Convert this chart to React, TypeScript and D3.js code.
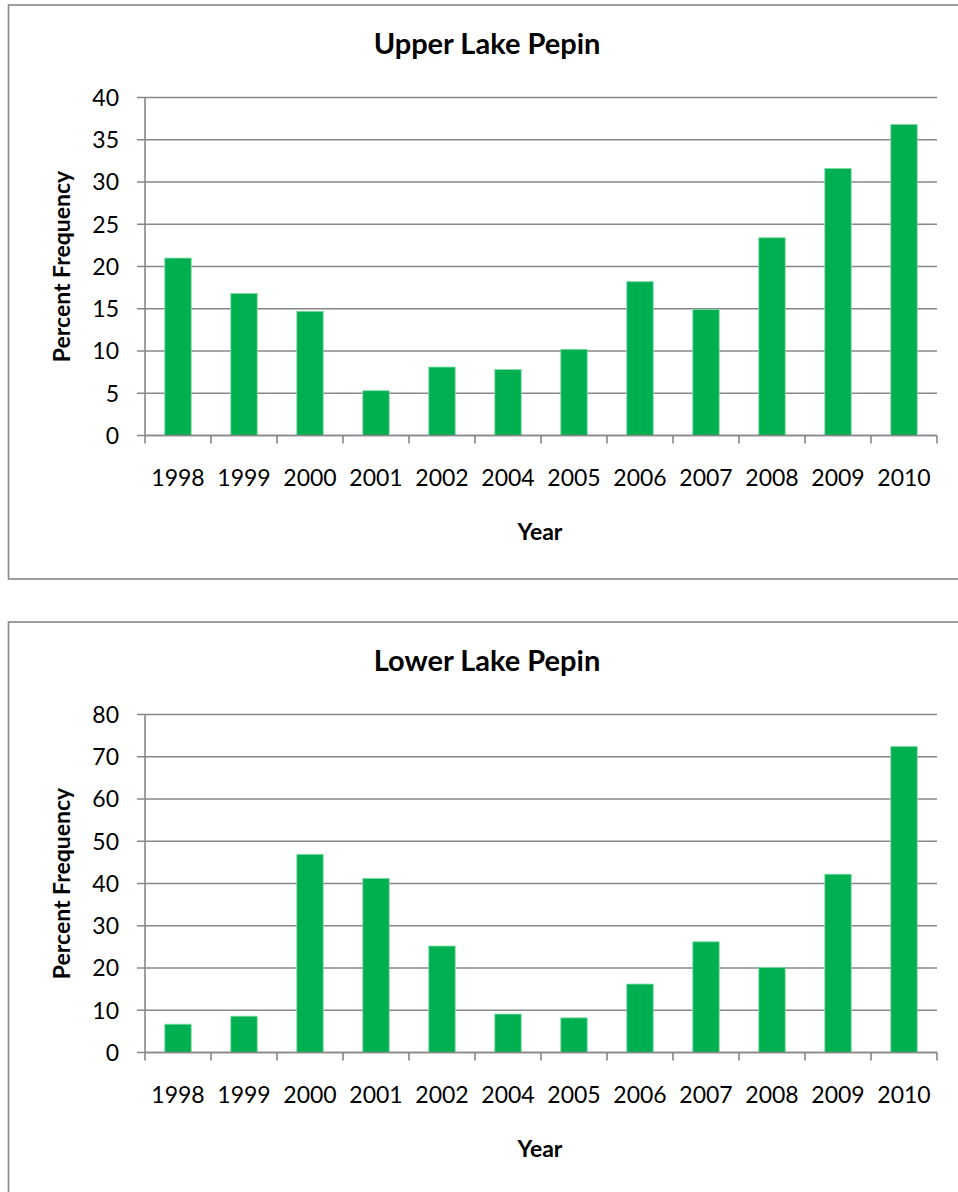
import React from "react";
import * as d3 from "d3";

// Survey years shared by both panels
const years = ["1998", "1999", "2000", "2001", "2002", "2004", "2005", "2006", "2007", "2008", "2009", "2010"];

// Percent frequency per year
const upperValues = [21.0, 16.8, 14.7, 5.3, 8.1, 7.8, 10.2, 18.2, 14.9, 23.4, 31.6, 36.8];
const lowerValues = [6.7, 8.6, 46.9, 41.2, 25.2, 9.1, 8.2, 16.2, 26.2, 20.1, 42.2, 72.4];

const upperTicks = [0, 5, 10, 15, 20, 25, 30, 35, 40];
const lowerTicks = [0, 10, 20, 30, 40, 50, 60, 70, 80];

const FONT = "Lato, 'Open Sans', sans-serif";
const GRID = "#878787";
const GREEN = "#00B050";

type PanelProps = {
  top: number;
  title: string;
  values: number[];
  ticks: number[];
  yMax: number;
};

function Panel({ top, title, values, ticks, yMax }: PanelProps) {
  const plotLeft = 145;
  const plotRight = 937;
  const plotTop = top + 92.5;
  const plotBottom = top + 430.5;

  const x = d3.scaleBand<string>().domain(years).range([plotLeft, plotRight]).paddingInner(0.6).paddingOuter(0.3);
  const y = d3.scaleLinear().domain([0, yMax]).range([plotBottom, plotTop]);
  const step = x.step();
  const boundaries = d3.range(years.length + 1).map((i) => plotLeft + i * step);

  return (
    <g>
      {/* chart frame */}
      <rect x={8.5} y={top} width={980} height={574} fill="#fff" stroke={GRID} strokeWidth={1.6} />
      <text x={487} y={top + 49} textAnchor="middle" fontFamily={FONT} fontWeight={700} fontSize={29} fill="#000">
        {title}
      </text>

      {/* gridlines and y ticks */}
      {ticks.map((t) => (
        <g key={t}>
          <line x1={137} x2={plotRight} y1={y(t)} y2={y(t)} stroke={GRID} strokeWidth={1.6} />
          <text x={119} y={y(t)} dy="0.36em" textAnchor="end" fontFamily={FONT} fontSize={23} fill="#000">
            {t}
          </text>
        </g>
      ))}

      {/* y axis line */}
      <line x1={plotLeft} x2={plotLeft} y1={plotTop} y2={plotBottom} stroke={GRID} strokeWidth={1.6} />

      {/* category ticks */}
      {boundaries.map((bx, i) => (
        <line key={i} x1={bx} x2={bx} y1={plotBottom} y2={plotBottom + 8} stroke={GRID} strokeWidth={1.6} />
      ))}

      {/* bars */}
      {values.map((v, i) => (
        <rect
          key={years[i]}
          x={x(years[i])!}
          y={y(v)}
          width={x.bandwidth()}
          height={plotBottom - y(v)}
          fill={GREEN}
          stroke="#7ddca6"
          strokeWidth={0.8}
        />
      ))}

      {/* x axis line drawn on top */}
      <line x1={plotLeft} x2={plotRight} y1={plotBottom} y2={plotBottom} stroke={GRID} strokeWidth={1.6} />

      {/* year labels */}
      {years.map((yr) => (
        <text
          key={yr}
          x={x(yr)! + x.bandwidth() / 2}
          y={top + 481}
          textAnchor="middle"
          fontFamily={FONT}
          fontSize={23}
          fill="#000"
        >
          {yr}
        </text>
      ))}

      <text x={540} y={top + 535} textAnchor="middle" fontFamily={FONT} fontWeight={700} fontSize={23} fill="#000">
        Year
      </text>
      <text
        transform={`translate(70, ${(plotTop + plotBottom) / 2}) rotate(-90)`}
        textAnchor="middle"
        fontFamily={FONT}
        fontWeight={700}
        fontSize={23}
        fill="#000"
      >
        Percent Frequency
      </text>
    </g>
  );
}

export default function App() {
  return (
    <svg
      width={958}
      height={1192}
      style={{ position: "absolute", left: 0, top: 0, background: "#fff" }}
    >
      <rect width={958} height={1192} fill="#fff" />
      <Panel top={5} title="Upper Lake Pepin" values={upperValues} ticks={upperTicks} yMax={40} />
      <Panel top={622} title="Lower Lake Pepin" values={lowerValues} ticks={lowerTicks} yMax={80} />
    </svg>
  );
}
